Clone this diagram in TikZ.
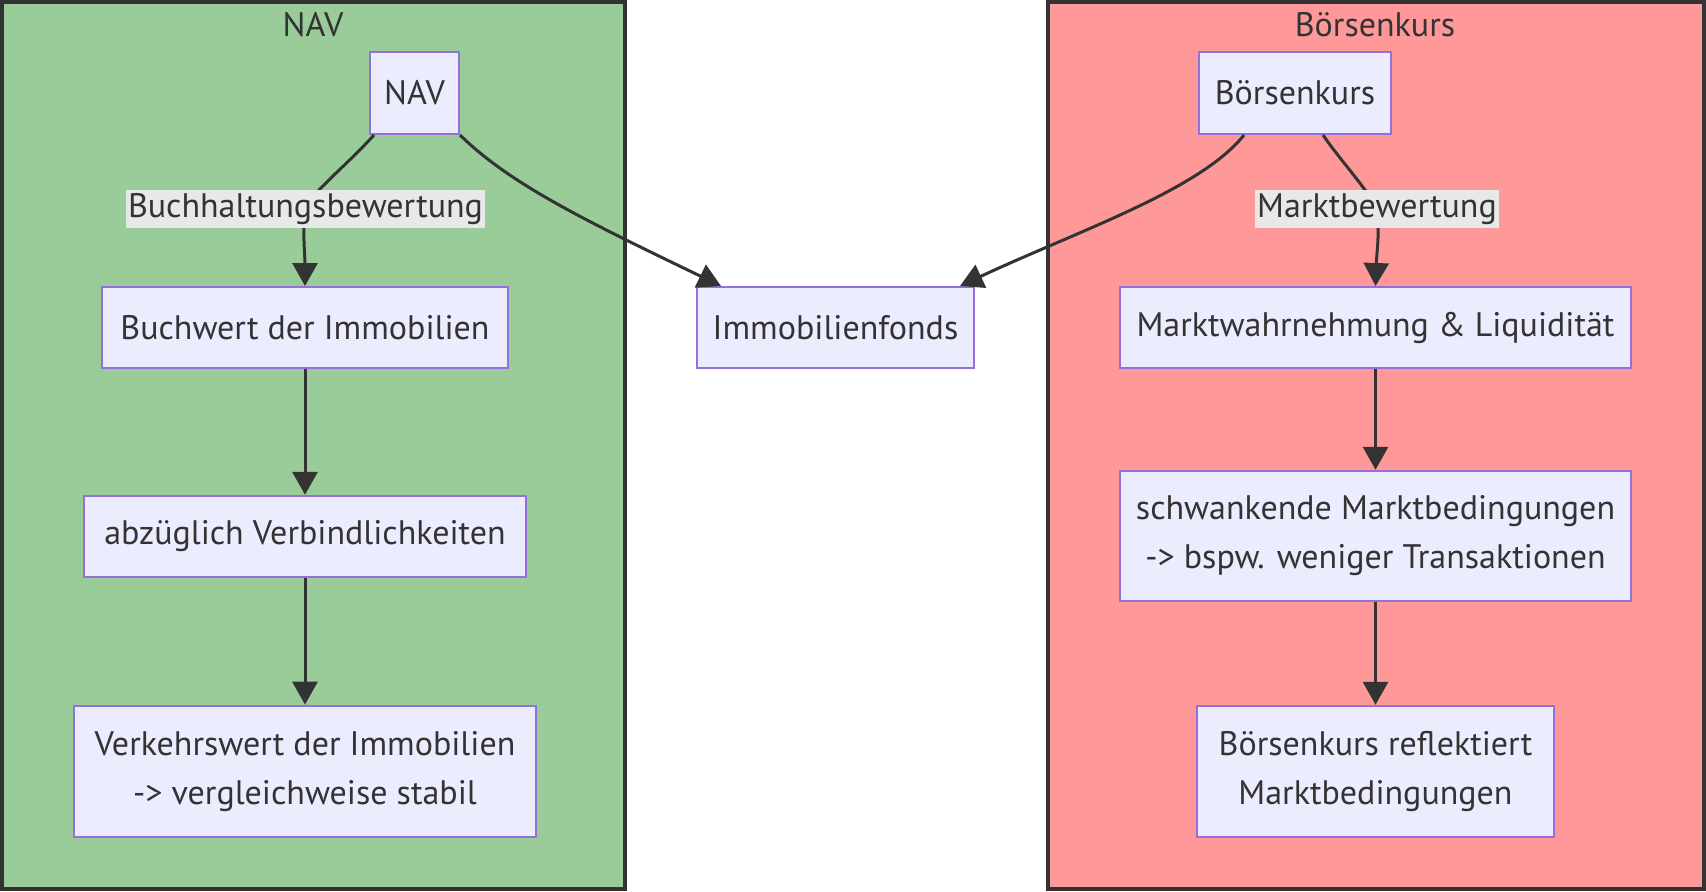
\documentclass[tikz,border=0pt]{standalone}
\usepackage{fontspec}
\setmainfont{PT Sans}
\usepackage{xcolor}
\usepackage{tikz}
\usetikzlibrary{positioning}
\usetikzlibrary{arrows.meta}
\definecolor{ink}{HTML}{333333}
\definecolor{boxfill}{HTML}{ECECFF}
\definecolor{boxline}{HTML}{9370DB}
\definecolor{lblfill}{HTML}{E8E8E8}
\definecolor{navgreen}{HTML}{99CC99}
\definecolor{kursred}{HTML}{FF9999}

\begin{document}
\begin{tikzpicture}[x=1pt,y=1pt,node distance=2cm,
  every node/.style={font=\fontsize{17}{24.5}\selectfont,text=ink},
  box/.style={draw=boxline,fill=boxfill,line width=1pt,align=center,minimum height=40.5pt},
  lbl/.style={fill=lblfill,inner sep=1pt,minimum height=19pt},
  edge/.style={draw=ink,line width=1.5pt,-{Triangle[length=11.5pt,width=12.5pt]}},
  cluster/.style={draw=ink,line width=2pt}]

\useasboundingbox (0,0) rectangle (853,-445.5);
\filldraw[cluster,fill=navgreen](1,-1) rectangle (312.25,-444.5);
\filldraw[cluster,fill=kursred] (523.75,-1) rectangle (852,-444.5);
\node(NAVTITLE)  at (156.5,-12.5)  {NAV};
\node(KURSTITLE) at (687.5,-12.5)  {Börsenkurs};

\node(NAV)      [box,minimum width=44.5pt,minimum height=41pt] at (207.25,-46.5) {NAV};
\node(BOERSE)   [box,minimum width=96pt,minimum height=41pt]   at (647.5,-46.5)  {Börsenkurs};
\node(BUCHWERT) [box,minimum width=203pt] at (152.5,-163.75) {Buchwert der Immobilien};
\node(ABZUG)    [box,minimum width=221pt,below=62.9pt of BUCHWERT] {abzüglich Verbindlichkeiten};
\node(VERKEHR)  [box,minimum width=231pt,minimum height=65.5pt,below=63.4pt of ABZUG] {Verkehrswert der Immobilien\\-> vergleichweise stabil};
\node(FONDS)    [box,minimum width=138.5pt,right=93.5pt of BUCHWERT] {Immobilienfonds};
\node(MARKT)    [box,minimum width=255.5pt,right=72pt of FONDS] {Marktwahrnehmung \& Liquidität};
\node(SCHWANK)  [box,minimum width=255.5pt,minimum height=65pt,below=50.4pt of MARKT] {schwankende Marktbedingungen\\-> bspw. weniger Transaktionen};
\node(REFLEKT)  [box,minimum width=178.5pt,minimum height=65.5pt,below=51.5pt of SCHWANK] {Börsenkurs reflektiert\\Marktbedingungen};
\coordinate(BUCHMID)  at (152.75,-104.5);
\coordinate(MARKTMID) at (688.5,-104.5);

\draw[edge]([xshift=2.5pt]NAV.south west) .. controls (172,-84) and (156,-96) .. (BUCHMID)
  node[lbl]{Buchhaltungsbewertung} .. controls (151,-112) and (152.5,-128) .. (BUCHWERT.north);
\draw[edge](NAV.south east) .. controls (255,-92) and (292,-110) .. ([xshift=12.5pt]FONDS.north west);
\draw[edge]([xshift=23pt]BOERSE.south west) .. controls (600,-95) and (540,-115) .. ([xshift=-7.5pt]FONDS.north east);
\draw[edge]([xshift=14pt]BOERSE.south) .. controls (670,-80) and (684,-95) .. (MARKTMID)
  node[lbl]{Marktbewertung} .. controls (690,-115) and (688.25,-128) .. (MARKT.north);
\draw[edge](BUCHWERT) -- (ABZUG);
\draw[edge](ABZUG)    -- (VERKEHR);
\draw[edge](MARKT)    -- (SCHWANK);
\draw[edge](SCHWANK)  -- (REFLEKT);
\end{tikzpicture}
\end{document}
